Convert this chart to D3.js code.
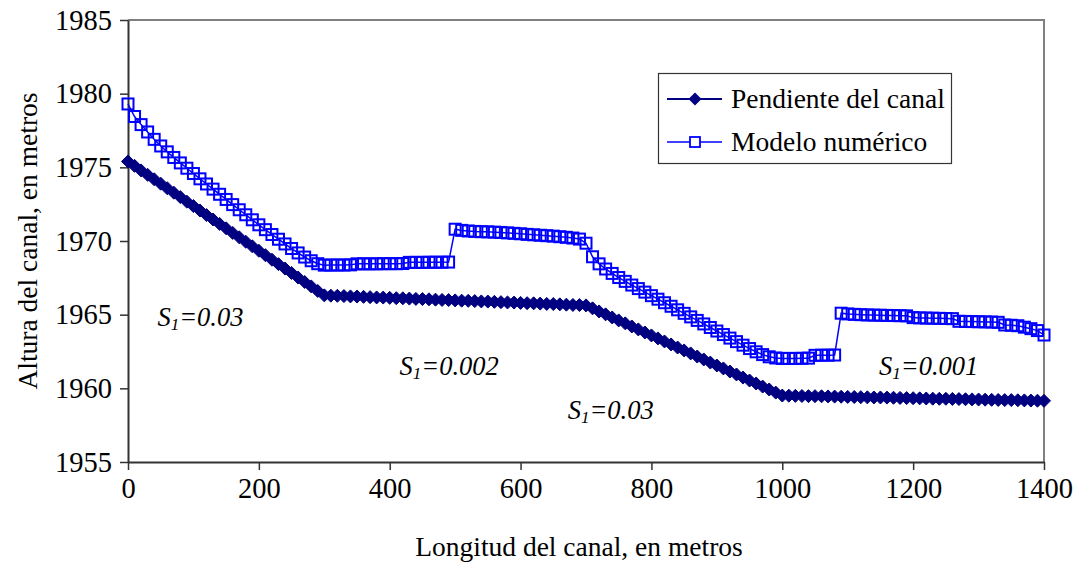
<!DOCTYPE html>
<html>
<head>
<meta charset="utf-8">
<script src="https://cdn.jsdelivr.net/npm/d3@7"></script>
<style>
  html, body { margin: 0; padding: 0; background: #fff; }
  svg { display: block; }
  text { font-family: "Liberation Serif", "Times New Roman", serif; fill: #000; }
</style>
</head>
<body>
<svg id="chart" width="1078" height="569"></svg>
<script>
// ---------------- data ----------------
const distancia = [
  0,10,20,30,40,50,60,70,80,90,100,110,120,130,140,150,160,170,180,190,200,
  210,220,230,240,250,260,270,280,290,300,310,320,330,340,350,360,370,380,390,400,
  410,420,430,440,450,460,470,480,490,500,510,520,530,540,550,560,570,580,590,600,
  610,620,630,640,650,660,670,680,690,700,710,720,730,740,750,760,770,780,790,800,
  810,820,830,840,850,860,870,880,890,900,910,920,930,940,950,960,970,980,990,1000,
  1010,1020,1030,1040,1050,1060,1070,1080,1090,1100,1110,1120,1130,1140,1150,1160,1170,1180,1190,1200,
  1210,1220,1230,1240,1250,1260,1270,1280,1290,1300,1310,1320,1330,1340,1350,1360,1370,1380,1390,1400
];

const pendienteCanal = [
  1975.40,1975.10,1974.79,1974.49,1974.19,1973.89,1973.58,1973.28,1972.98,1972.67,1972.37,
  1972.07,1971.76,1971.46,1971.16,1970.86,1970.55,1970.25,1969.95,1969.64,1969.34,
  1969.04,1968.73,1968.43,1968.13,1967.83,1967.52,1967.22,1966.92,1966.61,1966.31,
  1966.29,1966.28,1966.26,1966.24,1966.23,1966.21,1966.19,1966.17,1966.16,1966.14,
  1966.12,1966.11,1966.09,1966.07,1966.06,1966.04,1966.02,1966.00,1965.99,1965.97,
  1965.95,1965.94,1965.92,1965.90,1965.89,1965.87,1965.85,1965.83,1965.82,1965.80,
  1965.78,1965.77,1965.75,1965.73,1965.72,1965.70,1965.68,1965.66,1965.65,1965.63,
  1965.43,1965.22,1965.02,1964.81,1964.61,1964.41,1964.20,1964.00,1963.79,1963.59,
  1963.39,1963.18,1962.98,1962.77,1962.57,1962.37,1962.16,1961.96,1961.75,1961.55,
  1961.35,1961.14,1960.94,1960.73,1960.53,1960.33,1960.12,1959.92,1959.71,1959.51,
  1959.50,1959.49,1959.48,1959.47,1959.47,1959.46,1959.45,1959.44,1959.43,1959.42,
  1959.41,1959.40,1959.39,1959.38,1959.38,1959.37,1959.36,1959.35,1959.34,1959.33,
  1959.32,1959.31,1959.30,1959.29,1959.29,1959.28,1959.27,1959.26,1959.25,1959.24,
  1959.23,1959.22,1959.21,1959.20,1959.20,1959.19,1959.18,1959.17,1959.16,1959.15
];

const modeloNumerico = [
  1979.30,1978.45,1977.90,1977.40,1976.90,1976.45,1976.05,1975.67,1975.30,1974.94,1974.58,
  1974.22,1973.87,1973.52,1973.17,1972.82,1972.47,1972.12,1971.78,1971.44,1971.10,
  1970.77,1970.44,1970.12,1969.80,1969.49,1969.19,1968.91,1968.66,1968.46,1968.36,
  1968.37,1968.37,1968.37,1968.38,1968.45,1968.45,1968.45,1968.45,1968.46,1968.46,
  1968.46,1968.47,1968.55,1968.55,1968.55,1968.56,1968.56,1968.56,1968.57,1970.80,
  1970.72,1970.68,1970.65,1970.63,1970.62,1970.60,1970.58,1970.55,1970.52,1970.49,
  1970.45,1970.42,1970.39,1970.36,1970.33,1970.29,1970.25,1970.20,1970.13,1969.85,
  1968.93,1968.45,1968.10,1967.80,1967.52,1967.26,1967.01,1966.77,1966.53,1966.29,
  1966.05,1965.81,1965.57,1965.33,1965.09,1964.85,1964.61,1964.37,1964.13,1963.89,
  1963.65,1963.41,1963.17,1962.93,1962.70,1962.48,1962.29,1962.14,1962.06,1962.03,
  1962.03,1962.03,1962.04,1962.05,1962.24,1962.25,1962.25,1962.26,1965.10,1965.05,
  1965.02,1965.00,1964.98,1964.97,1964.96,1964.95,1964.94,1964.93,1964.92,1964.80,
  1964.78,1964.77,1964.76,1964.75,1964.74,1964.73,1964.55,1964.54,1964.53,1964.52,
  1964.51,1964.50,1964.48,1964.30,1964.28,1964.25,1964.15,1964.05,1963.92,1963.62
];

const xTicks = [0,200,400,600,800,1000,1200,1400];
const yTicks = [1955,1960,1965,1970,1975,1980,1985];

const seriesNames = ["Pendiente del canal", "Modelo numérico"];
const xTitle = "Longitud del canal, en metros";
const yTitle = "Altura del canal, en metros";

// annotation labels: slope text, position in data units
const annotations = [
  { value: "=0.03",  x: 45,   y: 1964.2 },
  { value: "=0.002", x: 415,  y: 1960.9 },
  { value: "=0.03",  x: 672,  y: 1957.9 },
  { value: "=0.001", x: 1148, y: 1960.9 }
];

// ---------------- drawing ----------------
const svg = d3.select("#chart");
const margin = { left: 128, right: 1044, top: 20, bottom: 462 };
const x = d3.scaleLinear().domain([0, 1400]).range([margin.left, margin.right]);
const y = d3.scaleLinear().domain([1955, 1985]).range([margin.bottom, margin.top]);

const FS = 27.5;
const TFS = 28.5;

// plot frame (top & right grey)
svg.append("path")
  .attr("d", `M${margin.left},${margin.top}H${margin.right}V${margin.bottom}`)
  .attr("fill", "none").attr("stroke", "#808080").attr("stroke-width", 2);

// axes
const fmt = d3.format("d");
const xAxis = d3.axisBottom(x).tickValues(xTicks).tickFormat(fmt).tickSize(8).tickPadding(8).tickSizeOuter(0);
const yAxis = d3.axisLeft(y).tickValues(yTicks).tickFormat(fmt).tickSize(8).tickPadding(8).tickSizeOuter(0);

const gx = svg.append("g").attr("transform", `translate(0,${margin.bottom})`).call(xAxis);
const gy = svg.append("g").attr("transform", `translate(${margin.left},0)`).call(yAxis);
[gx, gy].forEach(g => {
  g.select(".domain").attr("stroke", "#333").attr("stroke-width", 2);
  g.selectAll(".tick line").attr("stroke", "#333").attr("stroke-width", 1.5);
  g.selectAll(".tick text").style("font-family", '"Liberation Serif", "Times New Roman", serif')
    .style("font-size", TFS + "px").attr("fill", "#000");
});

// axis titles
svg.append("text").attr("x", 579).attr("y", 556)
  .attr("text-anchor", "middle").style("font-size", FS + "px").text(xTitle);
svg.append("text").attr("transform", `translate(37,${(margin.top + margin.bottom) / 2}) rotate(-90)`)
  .attr("text-anchor", "middle").style("font-size", FS + "px").text(yTitle);

// series data
const pData = distancia.map((d, i) => ({ x: d, y: pendienteCanal[i] }));
const mData = distancia.map((d, i) => ({ x: d, y: modeloNumerico[i] }));
const line = d3.line().x(d => x(d.x)).y(d => y(d.y));

const NAVY = "#000080", BLUE = "#0000FF";
const diamond = "M0,-6.5L6.5,0L0,6.5L-6.5,0Z";

// Pendiente del canal
svg.append("path").datum(pData).attr("d", line)
  .attr("fill", "none").attr("stroke", NAVY).attr("stroke-width", 2);
svg.append("g").selectAll("path").data(pData).join("path")
  .attr("transform", d => `translate(${x(d.x)},${y(d.y)})`)
  .attr("d", diamond).attr("fill", NAVY).attr("stroke", NAVY).attr("stroke-width", 1);

// Modelo numérico
svg.append("path").datum(mData).attr("d", line)
  .attr("fill", "none").attr("stroke", BLUE).attr("stroke-width", 1.5);
svg.append("g").selectAll("rect").data(mData).join("rect")
  .attr("x", d => x(d.x) - 5.5).attr("y", d => y(d.y) - 5.5)
  .attr("width", 11).attr("height", 11)
  .attr("fill", "none").attr("stroke", BLUE).attr("stroke-width", 2);

// annotations
annotations.forEach(a => {
  const t = svg.append("text").attr("x", x(a.x)).attr("y", y(a.y))
    .style("font-size", "26.5px").style("font-style", "italic");
  t.append("tspan").text("S");
  t.append("tspan").attr("dy", 4).style("font-size", "17px").text("1");
  t.append("tspan").attr("dy", -4).text(a.value);
});

// legend
const lg = svg.append("g");
lg.append("rect").attr("x", 658.5).attr("y", 73.5).attr("width", 293).attr("height", 90)
  .attr("fill", "#fff").attr("stroke", "#333").attr("stroke-width", 1.2);
const rows = [99, 142];
// row 1
lg.append("line").attr("x1", 667).attr("x2", 722).attr("y1", rows[0]).attr("y2", rows[0])
  .attr("stroke", NAVY).attr("stroke-width", 2);
lg.append("path").attr("transform", `translate(695,${rows[0]})`).attr("d", diamond).attr("fill", NAVY);
lg.append("text").attr("x", 731).attr("y", rows[0]).attr("dy", "0.33em")
  .style("font-size", FS + "px").text(seriesNames[0]);
// row 2
lg.append("line").attr("x1", 667).attr("x2", 722).attr("y1", rows[1]).attr("y2", rows[1])
  .attr("stroke", BLUE).attr("stroke-width", 1.5);
lg.append("rect").attr("x", 690).attr("y", rows[1] - 5).attr("width", 10).attr("height", 10)
  .attr("fill", "#fff").attr("stroke", BLUE).attr("stroke-width", 1.8);
lg.append("text").attr("x", 731).attr("y", rows[1]).attr("dy", "0.33em")
  .style("font-size", FS + "px").text(seriesNames[1]);
</script>
</body>
</html>
